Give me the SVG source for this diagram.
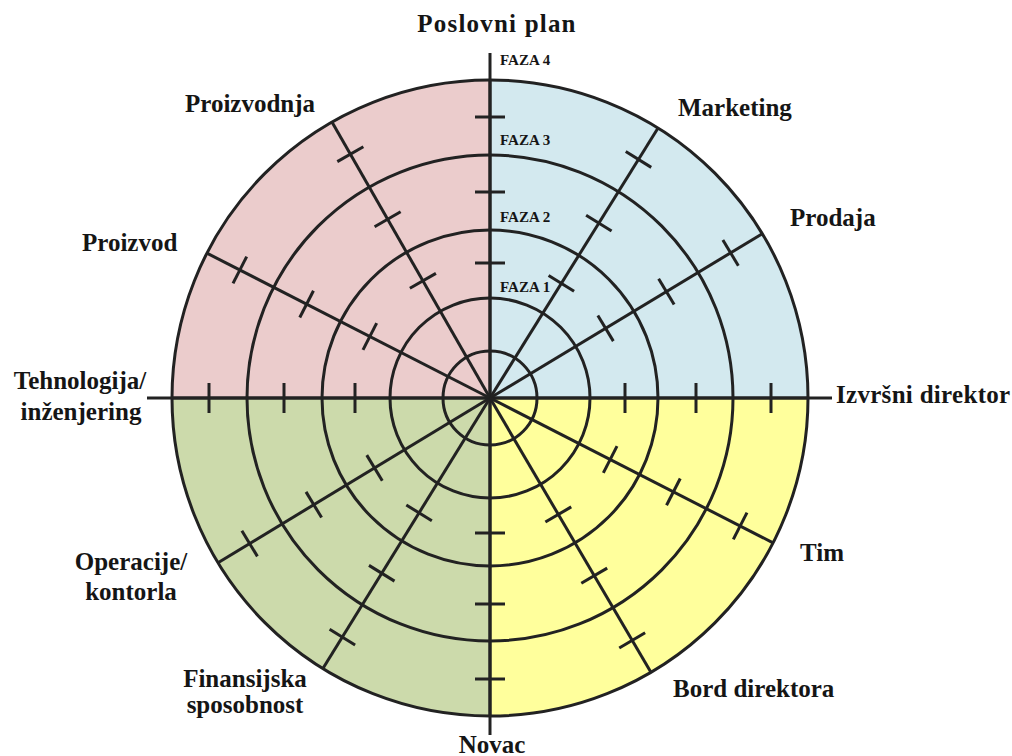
<svg xmlns="http://www.w3.org/2000/svg" xmlns:xlink="http://www.w3.org/1999/xlink" width="1012" height="756" viewBox="0 0 1012 756">
  <style>
    .ring { fill: none; stroke: #222; stroke-width: 3; }
    .ln { stroke: #222; stroke-width: 3; stroke-linecap: butt; fill: none; }
    .lbl { font-family: "Liberation Serif", "Times New Roman", serif; font-weight: bold; font-size: 25px; fill: #151515; }
    .faza { font-family: "Liberation Serif", "Times New Roman", serif; font-weight: bold; font-size: 15px; fill: #151515; }
  </style>
  <defs>
    <!-- one spoke with its three phase ticks, drawn along +x from the hub -->
    <g id="spoke" class="ln">
      <line x1="0" y1="0" x2="318" y2="0"/>
      <line x1="135" y1="-15" x2="135" y2="15"/>
      <line x1="206" y1="-15" x2="206" y2="15"/>
      <line x1="281" y1="-15" x2="281" y2="15"/>
    </g>
  </defs>

  <rect width="1012" height="756" fill="#ffffff"/>

  <!-- quadrant fills -->
  <g id="quadrants">
    <path d="M490,398 L172,398 A318,318 0 0 1 490,80 Z" fill="#ebcccc"/>
    <path d="M490,398 L490,80 A318,318 0 0 1 808,398 Z" fill="#d3e9ef"/>
    <path d="M490,398 L808,398 A318,318 0 0 1 490,716 Z" fill="#ffff9c"/>
    <path d="M490,398 L490,716 A318,318 0 0 1 172,398 Z" fill="#ccdaab"/>
  </g>

  <!-- phase rings -->
  <g id="rings">
    <circle class="ring" cx="490" cy="398" r="47"/>
    <circle class="ring" cx="490" cy="398" r="100"/>
    <circle class="ring" cx="490" cy="398" r="168"/>
    <circle class="ring" cx="490" cy="398" r="243"/>
    <circle class="ring" cx="490" cy="398" r="318"/>
  </g>

  <!-- spokes -->
  <g id="connectors">
    <line class="ln" x1="490" y1="53" x2="490" y2="735"/>
    <line class="ln" x1="147" y1="398" x2="832" y2="398"/>
    <use xlink:href="#spoke" transform="translate(490,398) rotate(0)"/>
    <use xlink:href="#spoke" transform="translate(490,398) rotate(90)"/>
    <use xlink:href="#spoke" transform="translate(490,398) rotate(180)"/>
    <use xlink:href="#spoke" transform="translate(490,398) rotate(-90)"/>
    <use xlink:href="#spoke" transform="translate(490,398) rotate(-31.1)"/>
    <use xlink:href="#spoke" transform="translate(490,398) rotate(-58.1)"/>
    <use xlink:href="#spoke" transform="translate(490,398) rotate(-119.8)"/>
    <use xlink:href="#spoke" transform="translate(490,398) rotate(-152.9)"/>
    <use xlink:href="#spoke" transform="translate(490,398) rotate(148.8)"/>
    <use xlink:href="#spoke" transform="translate(490,398) rotate(121.7)"/>
    <use xlink:href="#spoke" transform="translate(490,398) rotate(59.6)"/>
    <use xlink:href="#spoke" transform="translate(490,398) rotate(27.1)"/>
  </g>

  <!-- phase labels -->
  <g id="phases">
    <text class="faza" x="500" y="65">FAZA 4</text>
    <text class="faza" x="500" y="145">FAZA 3</text>
    <text class="faza" x="500" y="222">FAZA 2</text>
    <text class="faza" x="500" y="292">FAZA 1</text>
  </g>

  <!-- area labels -->
  <g id="poslovni-plan"><text class="lbl" x="497" y="32" text-anchor="middle" letter-spacing="1.2">Poslovni plan</text></g>
  <g id="marketing"><text class="lbl" x="678" y="116">Marketing</text></g>
  <g id="prodaja"><text class="lbl" x="790" y="226">Prodaja</text></g>
  <g id="izvrsni-direktor"><text class="lbl" x="836" y="403" letter-spacing="0.3">Izvršni direktor</text></g>
  <g id="tim"><text class="lbl" x="800" y="561">Tim</text></g>
  <g id="bord-direktora"><text class="lbl" x="673" y="697">Bord direktora</text></g>
  <g id="novac"><text class="lbl" x="492" y="753" text-anchor="middle">Novac</text></g>
  <g id="finansijska-sposobnost">
    <text class="lbl" x="245" y="687" text-anchor="middle">Finansijska</text>
    <text class="lbl" x="245" y="713" text-anchor="middle">sposobnost</text>
  </g>
  <g id="operacije-kontrola">
    <text class="lbl" x="131" y="570" text-anchor="middle">Operacije/</text>
    <text class="lbl" x="131" y="600" text-anchor="middle">kontorla</text>
  </g>
  <g id="tehnologija">
    <text class="lbl" x="80" y="389" text-anchor="middle">Tehnologija/</text>
    <text class="lbl" x="81" y="420" text-anchor="middle">inženjering</text>
  </g>
  <g id="proizvod"><text class="lbl" x="82" y="251">Proizvod</text></g>
  <g id="proizvodnja"><text class="lbl" x="185" y="112">Proizvodnja</text></g>
</svg>
